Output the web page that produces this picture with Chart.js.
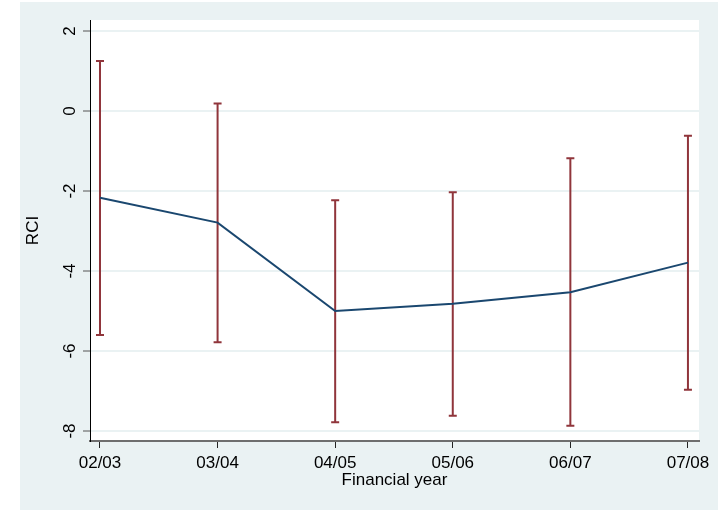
<!DOCTYPE html>
<html>
<head>
<meta charset="utf-8">
<script src="https://cdn.jsdelivr.net/npm/chart.js@4"></script>
<style>
  html, body { margin: 0; padding: 0; background: #ffffff; }
  canvas { display: block; }
</style>
</head>
<body>
<canvas id="chart" width="720" height="517"></canvas>
<script>
// Financial years and RCI estimates with 95% confidence limits
const years   = ['02/03', '03/04', '04/05', '05/06', '06/07', '07/08'];
const rci     = [-2.17, -2.79, -5.00, -4.82, -4.53, -3.79];
const ciLower = [-5.60, -5.78, -7.78, -7.62, -7.87, -6.97];
const ciUpper = [ 1.25,  0.19, -2.23, -2.03, -1.18, -0.62];
const yTicks  = [-8, -6, -4, -2, 0, 2];

const FONT = "'Liberation Sans', Arial, Helvetica, sans-serif";
const BG = '#eaf2f3';
const LINE_COLOR = '#1a476f';
const CAP_COLOR = '#90353b';

// Panel background and white plot region
const backgroundPlugin = {
  id: 'panelBackground',
  beforeDraw(chart) {
    const { ctx, chartArea: a } = chart;
    ctx.save();
    ctx.fillStyle = '#ffffff';
    ctx.fillRect(0, 0, chart.width, chart.height);
    ctx.fillStyle = BG;
    ctx.fillRect(20, 2, 698, 508);
    ctx.fillStyle = '#ffffff';
    ctx.fillRect(a.left, a.top, a.right - a.left, a.bottom - a.top);
    ctx.restore();
  }
};

// Capped vertical intervals drawn through the chart scales
const intervalPlugin = {
  id: 'capIntervals',
  beforeDatasetsDraw(chart) {
    const { ctx, scales: { x, y } } = chart;
    ctx.save();
    ctx.strokeStyle = CAP_COLOR;
    ctx.lineWidth = 2;
    ctx.lineCap = 'butt';
    const half = 4;
    years.forEach((_, i) => {
      const px = x.getPixelForValue(i);
      const top = y.getPixelForValue(ciUpper[i]);
      const bot = y.getPixelForValue(ciLower[i]);
      ctx.beginPath();
      ctx.moveTo(px, top);
      ctx.lineTo(px, bot);
      ctx.moveTo(px - half, top);
      ctx.lineTo(px + half, top);
      ctx.moveTo(px - half, bot);
      ctx.lineTo(px + half, bot);
      ctx.stroke();
    });
    ctx.restore();
  }
};

new Chart(document.getElementById('chart'), {
  type: 'line',
  data: {
    datasets: [{
      data: rci.map((v, i) => ({ x: i, y: v })),
      borderColor: LINE_COLOR,
      borderWidth: 2,
      pointRadius: 0,
      tension: 0,
      fill: false
    }]
  },
  options: {
    responsive: false,
    devicePixelRatio: 1,
    animation: false,
    layout: { padding: { left: 20, top: 20, right: 21, bottom: 7 } },
    plugins: { legend: { display: false }, tooltip: { enabled: false } },
    scales: {
      x: {
        type: 'linear',
        min: -0.085,
        max: 5.094,
        afterBuildTicks(scale) { scale.ticks = years.map((_, i) => ({ value: i })); },
        afterFit(scale) { scale.height = 69; },
        grid: { drawOnChartArea: false, drawTicks: true, tickLength: 7, tickColor: '#222', tickWidth: 1 },
        border: { display: true, color: '#6e6e6e', width: 2 },
        ticks: {
          autoSkip: false,
          maxRotation: 0,
          padding: 5,
          color: '#000',
          font: { family: FONT, size: 17 },
          callback: (v) => years[v]
        },
        title: {
          display: true,
          text: 'Financial year',
          color: '#000',
          font: { family: FONT, size: 17 },
          padding: { top: 0, bottom: 19 }
        }
      },
      y: {
        type: 'linear',
        min: -8.25,
        max: 2.275,
        afterBuildTicks(scale) { scale.ticks = yTicks.map(v => ({ value: v })); },
        afterFit(scale) { scale.width = 70; },
        grid: { color: BG, lineWidth: 2, drawTicks: true, tickLength: 7, tickColor: '#555', tickWidth: 1 },
        border: { display: true, color: '#000', width: 1 },
        ticks: {
          autoSkip: false,
          minRotation: 90,
          maxRotation: 90,
          crossAlign: 'center',
          padding: 5,
          color: '#000',
          font: { family: FONT, size: 17 }
        },
        title: {
          display: true,
          text: 'RCI',
          color: '#000',
          font: { family: FONT, size: 17 },
          padding: { top: 3, bottom: 0 }
        }
      }
    }
  },
  plugins: [backgroundPlugin, intervalPlugin]
});
</script>
</body>
</html>
